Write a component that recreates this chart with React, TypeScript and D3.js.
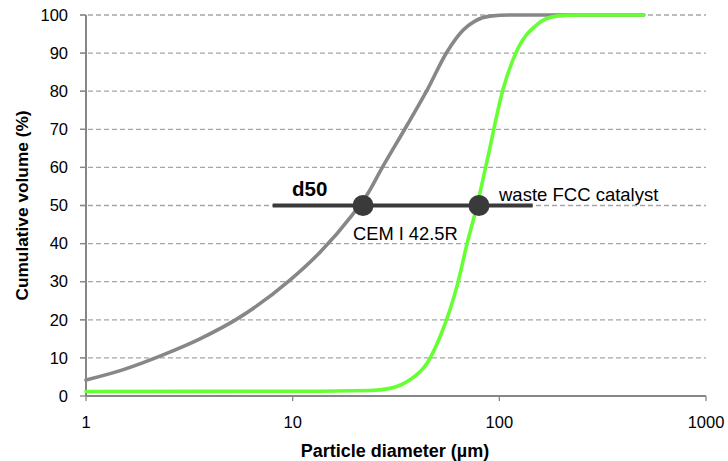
import React from "react";
import * as d3 from "d3";

// particle size distributions (diameter in µm, cumulative volume in %)
const cemDiameter = [1, 1.49, 2.36, 3.56, 5.56, 9.7, 13.6, 19.4, 22.9, 26.7, 35.7, 44.7, 55.8, 66.7, 76.2, 90.1, 112.5, 500];
const cemVolume = [4.2, 6.8, 10.8, 15, 20.7, 30.4, 37.8, 47.5, 52.8, 59.3, 71, 80.3, 90.3, 96, 98.4, 99.7, 100, 100];

const fccDiameter = [1, 10.8, 23.6, 29.5, 36.8, 44.7, 51.6, 57.6, 63, 69.5, 78, 88, 104, 123, 151.6, 189, 245, 497];
const fccVolume = [1.2, 1.25, 1.45, 2, 4.2, 8.6, 15.5, 22.5, 29.7, 39.6, 50, 62.7, 80.3, 91.2, 97.4, 99.7, 100, 100];

// d50 marker
const d50Range = [8, 145];
const d50Points = [21.9, 79.7];
const d50Labels = ["CEM I 42.5R", "waste FCC catalyst"];

const xTicks = [1, 10, 100, 1000];
const yTicks = [0, 10, 20, 30, 40, 50, 60, 70, 80, 90, 100];

const W = 728;
const H = 461;
const font = "'Liberation Sans', Arial, sans-serif";

export default function App() {
  const x = d3.scaleLog().domain([1, 1000]).range([86, 706]);
  const y = d3.scaleLinear().domain([0, 100]).range([396, 15]);

  const line = d3
    .line<[number, number]>()
    .x((d) => x(d[0]))
    .y((d) => y(d[1]))
    .curve(d3.curveMonotoneX);

  const cem = cemDiameter.map((d, i) => [d, cemVolume[i]] as [number, number]);
  const fcc = fccDiameter.map((d, i) => [d, fccVolume[i]] as [number, number]);

  return (
    <svg
      width={W}
      height={H}
      style={{ position: "absolute", left: 0, top: 0, background: "#fff" }}
      fontFamily={font}
    >
      {/* gridlines */}
      {yTicks.slice(1).map((t) => (
        <line
          key={t}
          x1={80}
          x2={706}
          y1={y(t)}
          y2={y(t)}
          stroke="#a6a6a6"
          strokeWidth={1.3}
          strokeDasharray="5,3"
        />
      ))}
      {/* y axis */}
      <line x1={86} x2={86} y1={y(100)} y2={y(0)} stroke="#868686" strokeWidth={2} />
      {yTicks.map((t) => (
        <g key={t}>
          <line x1={80} x2={86} y1={y(t)} y2={y(t)} stroke="#868686" strokeWidth={1.3} />
          <text x={68} y={y(t)} dy="0.35em" textAnchor="end" fontSize={16.5}>
            {t}
          </text>
        </g>
      ))}
      {/* x axis */}
      <line x1={86} x2={706} y1={y(0)} y2={y(0)} stroke="#868686" strokeWidth={2} />
      {xTicks.map((t) => (
        <g key={t}>
          <line x1={x(t)} x2={x(t)} y1={y(0)} y2={y(0) + 5} stroke="#868686" strokeWidth={1.3} />
          <text x={x(t)} y={428} textAnchor="middle" fontSize={16.5}>
            {t}
          </text>
        </g>
      ))}

      {/* curves */}
      <path d={line(cem) ?? ""} fill="none" stroke="#878787" strokeWidth={3.6} strokeLinecap="round" />
      <path d={line(fcc) ?? ""} fill="none" stroke="#66ff33" strokeWidth={3.6} strokeLinecap="round" />

      {/* d50 */}
      <line
        x1={x(d50Range[0])}
        x2={x(d50Range[1])}
        y1={y(50)}
        y2={y(50)}
        stroke="#3a3a3a"
        strokeWidth={4}
      />
      {d50Points.map((p) => (
        <circle key={p} cx={x(p)} cy={y(50)} r={10.5} fill="#3a3a3a" />
      ))}
      <text x={292} y={196} fontSize={20.5} fontWeight="bold">
        d50
      </text>
      <text x={353} y={240} fontSize={18.3}>
        {d50Labels[0]}
      </text>
      <text x={499} y={201} fontSize={18.5}>
        {d50Labels[1]}
      </text>

      {/* axis titles */}
      <text x={395} y={457} textAnchor="middle" fontSize={18} fontWeight="bold">
        Particle diameter (µm)
      </text>
      <text
        transform={`translate(28,205.5) rotate(-90)`}
        textAnchor="middle"
        fontSize={17.3}
        fontWeight="bold"
      >
        Cumulative volume (%)
      </text>
    </svg>
  );
}
